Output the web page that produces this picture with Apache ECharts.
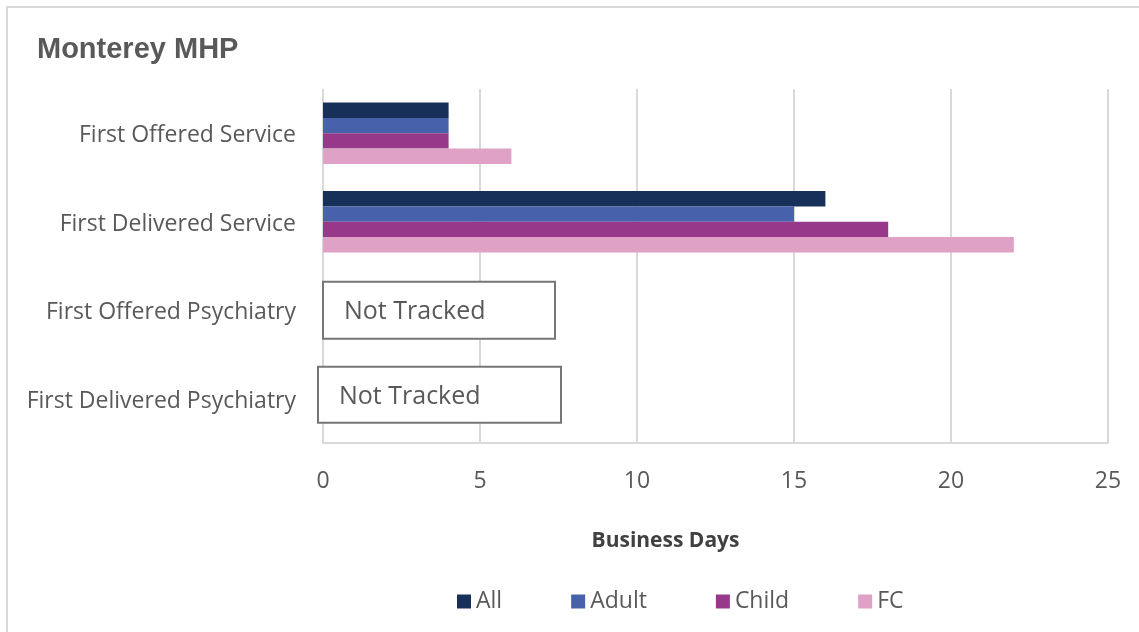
<!DOCTYPE html>
<html>
<head>
<meta charset="utf-8">
<script src="https://cdn.jsdelivr.net/npm/echarts@6/dist/echarts.min.js"></script>
<style>
  html, body { margin: 0; padding: 0; background: #ffffff; }
  #chart { width: 1139px; height: 632px; }
</style>
</head>
<body>
<div id="chart"></div>
<script>
// Categories, top to bottom
const categories = [
  'First Offered Service',
  'First Delivered Service',
  'First Offered Psychiatry',
  'First Delivered Psychiatry'
];

// Business days per group (null = not tracked)
const allValues   = [4, 16, null, null];
const adultValues = [4, 15, null, null];
const childValues = [4, 18, null, null];
const fcValues    = [6, 22, null, null];

const seriesNames = ['All', 'Adult', 'Child', 'FC'];
const seriesColors = ['#17305A', '#4762AA', '#97388A', '#E0A1C7'];

// X axis ticks
const xMin = 0, xMax = 25, xStep = 5;

// Rows with no data get a "Not Tracked" note
const notTrackedRows = categories.filter((c, i) =>
  [allValues, adultValues, childValues, fcValues].every(arr => arr[i] == null));

const font = 'Open Sans';
const gray = '#595959';

const barSeries = [allValues, adultValues, childValues, fcValues].map((vals, i) => ({
  name: seriesNames[i],
  type: 'bar',
  data: vals,
  itemStyle: { color: seriesColors[i] },
  barGap: '0%',
  barCategoryGap: '30.6%',
  silent: true
}));

// Note box styles per row (slightly different sizes)
const noteStyles = [
  { offset: [1, 0], width: 210, height: 55 },
  { offset: [-4, -4], width: 221, height: 54 }
];

const noteSeries = {
  name: 'note',
  type: 'scatter',
  symbolSize: 0,
  silent: true,
  z: 5,
  itemStyle: { opacity: 1 },
  data: notTrackedRows.map((c, i) => ({
    value: [0, c],
    label: {
      offset: noteStyles[i % noteStyles.length].offset,
      width: noteStyles[i % noteStyles.length].width,
      height: noteStyles[i % noteStyles.length].height
    }
  })),
  label: {
    show: true,
    position: 'right',
    distance: 0,
    formatter: '{n|Not Tracked}',
    rich: {
      n: {
        fontFamily: font,
        fontSize: 25,
        color: gray,
        lineHeight: 34,
        padding: [25, 0, 0, 0]
      }
    },
    opacity: 1,
    align: 'left',
    verticalAlign: 'middle',
    backgroundColor: '#ffffff',
    borderColor: '#767676',
    borderWidth: 2,
    padding: [0, 0, 0, 20]
  }
};

const chart = echarts.init(document.getElementById('chart'), null, { renderer: 'canvas' });

chart.setOption({
  animation: false,
  backgroundColor: '#ffffff',
  graphic: [{
    type: 'rect',
    shape: { x: 7, y: 7, width: 1300, height: 800 },
    style: { fill: 'none', stroke: '#D9D9D9', lineWidth: 2 },
    silent: true,
    z: -10
  }],
  title: {
    text: 'Monterey MHP',
    left: 37,
    top: 35,
    padding: 0,
    textStyle: {
      fontFamily: 'Liberation Sans',
      fontWeight: 'bold',
      fontSize: 29,
      color: gray
    }
  },
  legend: {
    data: seriesNames,
    left: 457,
    top: 590,
    padding: 0,
    itemWidth: 14,
    itemHeight: 14,
    itemGap: 69,
    icon: 'rect',
    textStyle: { fontFamily: font, fontSize: 23, color: gray }
  },
  grid: {
    left: 323,
    right: 31,
    top: 89,
    bottom: 189,
    containLabel: false
  },
  xAxis: {
    type: 'value',
    min: xMin,
    max: xMax,
    interval: xStep,
    name: 'Business Days',
    nameLocation: 'middle',
    nameGap: 88,
    nameTextStyle: {
      fontFamily: font,
      fontWeight: 'bold',
      fontSize: 21,
      color: '#404040',
      padding: [0, 100, 0, 0]
    },
    axisLine: { show: true, lineStyle: { color: '#D9D9D9', width: 2 } },
    axisTick: { show: false },
    axisLabel: { fontFamily: font, fontSize: 23, color: gray, margin: 27 },
    splitLine: { show: true, lineStyle: { color: '#D9D9D9', width: 2 } }
  },
  yAxis: {
    type: 'category',
    data: categories,
    inverse: true,
    axisLine: { show: false },
    axisTick: { show: false },
    axisLabel: {
      margin: 27,
      formatter: v => '{c|' + v + '}',
      rich: {
        c: {
          fontFamily: font, fontSize: 23, color: gray,
          lineHeight: 30, padding: [5, 0, 0, 0]
        }
      }
    },
    splitLine: { show: false }
  },
  series: [...barSeries, noteSeries]
});
</script>
</body>
</html>
